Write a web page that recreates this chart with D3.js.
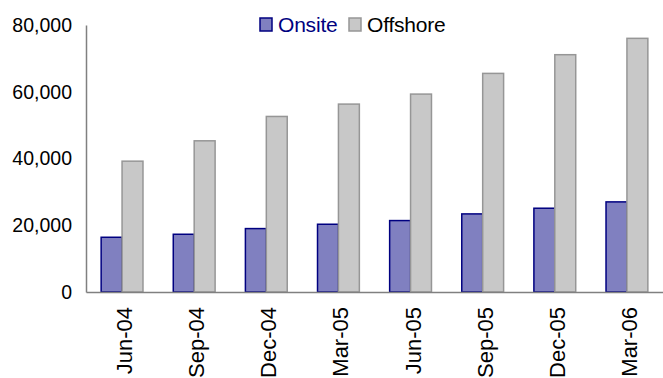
<!DOCTYPE html>
<html>
<head>
<meta charset="utf-8">
<script src="https://cdn.jsdelivr.net/npm/d3@7"></script>
<style>
  html, body { margin: 0; padding: 0; background: #fff; }
  svg { display: block; font-family: "Liberation Sans", Arial, sans-serif; }
</style>
</head>
<body>
<svg id="chart" width="663" height="378"></svg>
<script>
// Quarterly headcount, onsite vs offshore
const categories = ["Jun-04", "Sep-04", "Dec-04", "Mar-05", "Jun-05", "Sep-05", "Dec-05", "Mar-06"];
const onsite   = [16400, 17300, 19000, 20300, 21400, 23400, 25100, 27000];
const offshore = [39200, 45300, 52600, 56300, 59300, 65500, 71100, 76000];
const seriesNames = ["Onsite", "Offshore"];
const yTicks = [0, 20000, 40000, 60000, 80000];

const svg = d3.select("#chart");
const plotLeft = 86, plotRight = 663, plotTop = 25, plotBottom = 292;

const x = d3.scaleBand().domain(categories).range([plotLeft, plotRight])
  .paddingInner(0.42).paddingOuter(0.21);
const xs = d3.scaleBand().domain(seriesNames).range([0, x.bandwidth()]);
const y = d3.scaleLinear().domain([0, 80000]).range([plotBottom, plotTop]);

const styles = {
  Onsite:   { fill: "#8080c0", stroke: "#000080", text: "#000080" },
  Offshore: { fill: "#c8c8c8", stroke: "#969696", text: "#000000" }
};

const rows = categories.map((c, i) => ({ cat: c, Onsite: onsite[i], Offshore: offshore[i] }));

// bars
const groups = svg.append("g").selectAll("g").data(rows).join("g")
  .attr("transform", d => `translate(${x(d.cat)},0)`);
groups.selectAll("rect")
  .data(d => seriesNames.map(s => ({ s, v: d[s] })))
  .join("rect")
  .attr("x", d => xs(d.s))
  .attr("width", xs.bandwidth())
  .attr("y", d => y(d.v))
  .attr("height", d => plotBottom - y(d.v))
  .attr("fill", d => styles[d.s].fill)
  .attr("stroke", d => styles[d.s].stroke)
  .attr("stroke-width", 1.5);

// y axis
const yAxis = d3.axisLeft(y).tickValues(yTicks).tickSize(0).tickPadding(14)
  .tickFormat(d3.format(","));
const gy = svg.append("g").attr("transform", `translate(${plotLeft},0)`).call(yAxis);
gy.select(".domain").attr("stroke", "#808080").attr("stroke-width", 1.5);
gy.selectAll("text").attr("font-size", 19.5).attr("fill", "#000")
  .attr("font-family", "Liberation Sans, Arial, sans-serif");

// x axis
const xAxis = d3.axisBottom(x).tickSize(0).tickPadding(0);
const gx = svg.append("g").attr("transform", `translate(0,${plotBottom})`).call(xAxis);
gx.select(".domain").attr("stroke", "#808080").attr("stroke-width", 1.5);
gx.selectAll("text")
  .attr("font-size", 22).attr("fill", "#000")
  .attr("font-family", "Liberation Sans, Arial, sans-serif")
  .attr("text-anchor", "end")
  .attr("dy", null)
  .attr("transform", "translate(10,15) rotate(-90)")
  .attr("x", 0).attr("y", 0);

// legend
const legendItems = [
  { name: "Onsite", x: 260 },
  { name: "Offshore", x: 349 }
];
const lg = svg.append("g").selectAll("g").data(legendItems).join("g")
  .attr("transform", d => `translate(${d.x},18)`);
lg.append("rect").attr("width", 12).attr("height", 13)
  .attr("fill", d => styles[d.name].fill)
  .attr("stroke", d => styles[d.name].stroke).attr("stroke-width", 1.5);
lg.append("text").attr("x", 18).attr("y", 13.5)
  .attr("font-size", 21).attr("letter-spacing", -0.2)
  .attr("fill", d => styles[d.name].text)
  .text(d => d.name);
</script>
</body>
</html>
